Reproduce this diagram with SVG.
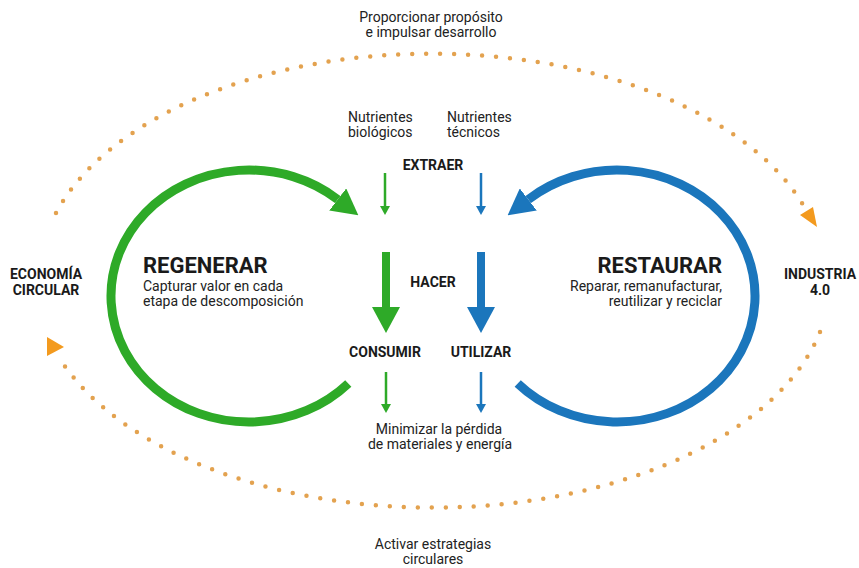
<svg xmlns="http://www.w3.org/2000/svg" width="859" height="568" viewBox="0 0 859 568">
  <style>
    text { font-family: Roboto, "Liberation Sans", sans-serif; fill: #222; }
    .t { font-size: 14px; }
    .b { font-size: 14px; font-weight: 700; fill: #1a1a1a; }
    .h { font-size: 22px; font-weight: 700; fill: #1a1a1a; }
    .mid { text-anchor: middle; }
    .end { text-anchor: end; }
    .dots { fill: none; stroke: #E3A24F; stroke-width: 4.5; stroke-linecap: round; stroke-dasharray: 0 14; }
    .orange { fill: #F39A1E; }
    .green { stroke: #2EAA28; fill: none; }
    .blue { stroke: #1B76BC; fill: none; }
  </style>
  <defs>
    <marker id="bigG" viewBox="0 -14 26 28" markerWidth="26" markerHeight="28" refX="0" refY="0" orient="auto" markerUnits="userSpaceOnUse">
      <path d="M0,-14 L26,0 L0,14 z" fill="#2EAA28"/>
    </marker>
    <marker id="bigB" viewBox="0 -14 26 28" markerWidth="26" markerHeight="28" refX="0" refY="0" orient="auto" markerUnits="userSpaceOnUse">
      <path d="M0,-14 L26,0 L0,14 z" fill="#1B76BC"/>
    </marker>
    <marker id="smG" viewBox="0 -5 9 10" markerWidth="9" markerHeight="10" refX="0" refY="0" orient="auto" markerUnits="userSpaceOnUse">
      <path d="M0,-5 L9,0 L0,5 z" fill="#2EAA28"/>
    </marker>
    <marker id="smB" viewBox="0 -5 9 10" markerWidth="9" markerHeight="10" refX="0" refY="0" orient="auto" markerUnits="userSpaceOnUse">
      <path d="M0,-5 L9,0 L0,5 z" fill="#1B76BC"/>
    </marker>
  </defs>

  <g id="connectors">
    <!-- outer dotted loops -->
    <path class="dots" d="M 56 213 A 393 225 0 0 1 805 208"/>
    <polygon class="orange" points="800,215 813,207 817,227"/>
    <path class="dots" d="M 820 332 A 397 226 0 0 1 62 362"/>
    <polygon class="orange" points="47,337 47,356 64,347"/>
    <!-- big loops -->
    <path class="green" stroke-width="9" d="M 348.3 383.5 A 138 126 0 1 1 337.7 199.5" marker-end="url(#bigG)"/>
    <path class="blue" stroke-width="9" d="M 517.7 383.5 A 138 126 0 1 0 528.3 199.5" marker-end="url(#bigB)"/>
    <!-- extract arrows -->
    <line class="green" stroke-width="2.5" x1="385" y1="173" x2="385" y2="206" marker-end="url(#smG)"/>
    <line class="blue" stroke-width="2.5" x1="481" y1="173" x2="481" y2="206" marker-end="url(#smB)"/>
    <!-- make arrows -->
    <line class="green" stroke-width="8" x1="386" y1="252" x2="386" y2="307" marker-end="url(#bigG)"/>
    <line class="blue" stroke-width="8" x1="481" y1="252" x2="481" y2="307" marker-end="url(#bigB)"/>
    <!-- loss arrows -->
    <line class="green" stroke-width="2.5" x1="386" y1="372" x2="386" y2="404" marker-end="url(#smG)"/>
    <line class="blue" stroke-width="2.5" x1="481" y1="372" x2="481" y2="404" marker-end="url(#smB)"/>
  </g>

  <g id="proporcionar">
    <text class="t mid" x="431" y="22">Proporcionar propósito</text>
    <text class="t mid" x="431" y="37">e impulsar desarrollo</text>
  </g>
  <g id="nutrientes-biologicos">
    <text class="t" x="348" y="122">Nutrientes</text>
    <text class="t" x="348" y="137">biológicos</text>
  </g>
  <g id="nutrientes-tecnicos">
    <text class="t" x="447" y="122">Nutrientes</text>
    <text class="t" x="447" y="137">técnicos</text>
  </g>
  <g id="extraer">
    <text class="b mid" x="433" y="170">EXTRAER</text>
  </g>
  <g id="hacer">
    <text class="b mid" x="433" y="287">HACER</text>
  </g>
  <g id="consumir">
    <text class="b mid" x="385" y="357">CONSUMIR</text>
  </g>
  <g id="utilizar">
    <text class="b mid" x="481" y="357">UTILIZAR</text>
  </g>
  <g id="minimizar">
    <text class="t mid" x="439" y="434">Minimizar la pérdida</text>
    <text class="t mid" x="440" y="449">de materiales y energía</text>
  </g>
  <g id="activar">
    <text class="t mid" x="433" y="549">Activar estrategias</text>
    <text class="t mid" x="433" y="564">circulares</text>
  </g>
  <g id="economia-circular">
    <text class="b mid" x="46" y="279">ECONOMÍA</text>
    <text class="b mid" x="46" y="295">CIRCULAR</text>
  </g>
  <g id="industria">
    <text class="b mid" x="820" y="279">INDUSTRIA</text>
    <text class="b mid" x="820" y="295">4.0</text>
  </g>
  <g id="regenerar">
    <text class="h" x="143" y="273">REGENERAR</text>
    <text class="t" x="143" y="291">Capturar valor en cada</text>
    <text class="t" x="143" y="306">etapa de descomposición</text>
  </g>
  <g id="restaurar">
    <text class="h end" x="722" y="273">RESTAURAR</text>
    <text class="t end" x="722" y="291">Reparar, remanufacturar,</text>
    <text class="t end" x="722" y="306">reutilizar y reciclar</text>
  </g>
</svg>
